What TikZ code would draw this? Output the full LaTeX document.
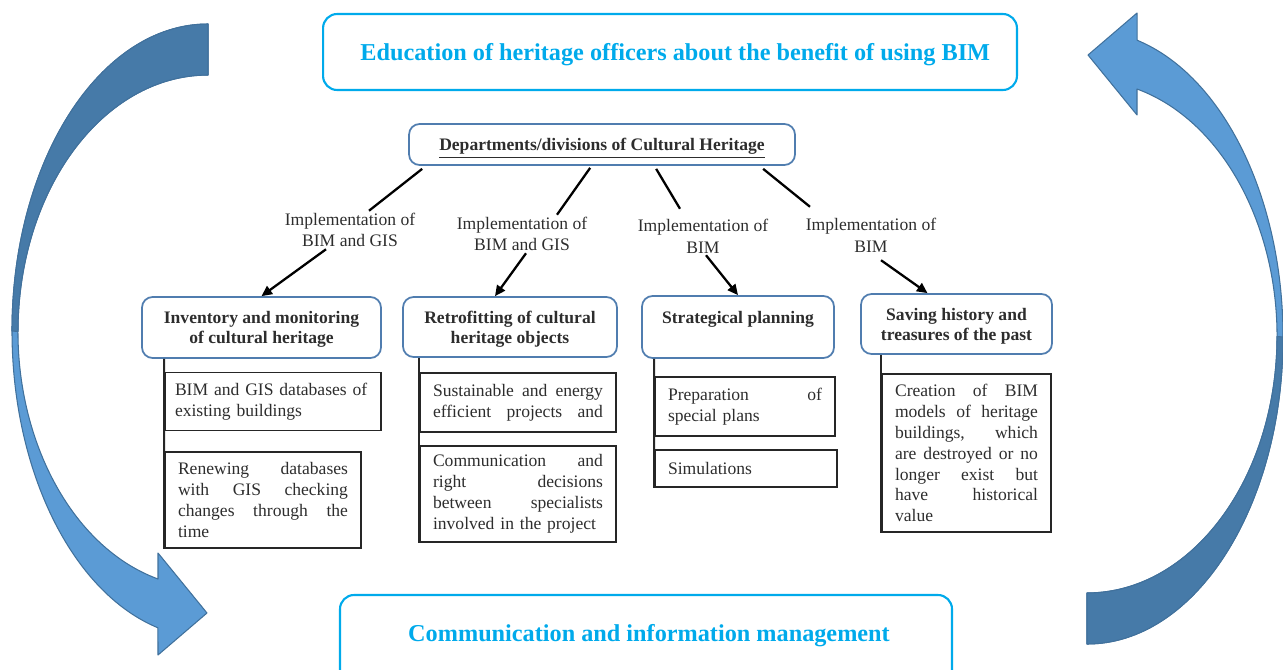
\documentclass[tikz,border=0pt]{standalone}
\usepackage{fontspec}
\setmainfont{Liberation Serif}
\usetikzlibrary{arrows.meta,calc}

\definecolor{hcyan}{RGB}{0,170,235}
\definecolor{steel}{RGB}{80,125,175}
\definecolor{arrlight}{RGB}{91,155,213}
\definecolor{arrdark}{RGB}{70,122,168}
\definecolor{arredge}{RGB}{65,113,156}
\definecolor{txtgray}{RGB}{45,45,45}

% stretch one line of a box to the given width
\newcommand{\jline}[2][3.4cm]{\leavevmode\hbox to #1{\spaceskip=.25em plus 1fil\relax #2}}

\tikzset{
  cyantext/.style={text=hcyan, text depth=0pt, font=\fontsize{13.8}{16}\selectfont\bfseries},
  cyanbox/.style={cyantext, draw=hcyan, line width=1.2pt, rounded corners=8pt},
  deptbox/.style={draw=steel, line width=1pt, rounded corners=6pt, text=txtgray, text depth=0pt,
    font=\fontsize{10}{12}\selectfont\bfseries},
  catbox/.style={draw=steel, line width=1pt, rounded corners=6pt, align=center, text depth=0pt,
    text=txtgray, font=\fontsize{10}{11.4}\selectfont\bfseries},
  subbox/.style={draw=black!85, line width=1.1pt, inner xsep=0.26cm, inner ysep=1pt,
    align=left, text=txtgray, font=\fontsize{10}{11.9}\selectfont},
  impl/.style={inner sep=1pt, align=center, text=txtgray, font=\fontsize{10}{12.4}\selectfont},
  link/.style={line width=1.3pt},
  tip/.style={link, -{Triangle[length=6pt,width=5.5pt]}},
  subline/.style={draw=black!85, line width=1.1pt},
  bigarrow/.style={draw=arredge, line width=0.6pt, line join=round}
}

\begin{document}
\begin{tikzpicture}[x=0.02cm, y=-0.02cm]
\useasboundingbox (0,0) rectangle (1283,669);

% ---- the two curved arrows, the right one is the left one turned round
\foreach \turn in {0,180}{
\begin{scope}[rotate around={\turn:(647.5,334)}]
\path[bigarrow, fill=arrlight] (208,24)
  arc[start angle=-90, end angle=-255.2, x radius=196, y radius=307]
  -- (158,655) -- (207,613) -- (158,553) -- (158,579)
  arc[start angle=-254.74, end angle=-90, x radius=190, y radius=256.5] -- cycle;
% ---- darker back half
\path[bigarrow, fill=arrdark] (208,24)
  arc[start angle=-90, end angle=-180, x radius=196, y radius=307]
  -- (18,331.5)
  arc[start angle=-180, end angle=-90, x radius=190, y radius=256.5] -- cycle;
\end{scope}
}

% ---- top and bottom frames
\node[cyanbox, minimum width=13.88cm, minimum height=1.52cm] (edu) at (670,52)
  {\hspace{6pt}Education of heritage officers about the benefit of using BIM};
\draw[cyanbox] (340,595) rectangle (952,700);
\node[cyantext] (comm) at (649,633) {Communication and information management};

% ---- root
\node[deptbox, minimum width=7.72cm, minimum height=0.82cm] (dept) at (602,144.5)
  {\underline{Departments/divisions of Cultural Heritage}};

% ---- edge labels
\node[impl] (lab1) at (350,230) {Implementation of\\BIM and GIS};
\node[impl] (lab2) at (522,234) {Implementation of\\BIM and GIS};
\node[impl] (lab3) at (703,236) {Implementation of\\BIM};
\node[impl] (lab4) at (871,235) {Implementation of\\BIM};

% ---- the four fields
\node[catbox, minimum width=4.78cm, minimum height=1.22cm] (cat1) at (261.5,327.5)
  {Inventory and monitoring\\of cultural heritage};
\node[catbox, minimum width=4.28cm, minimum height=1.2cm] (cat2) at (510,327)
  {Retrofitting of cultural\\heritage objects};
\node[catbox, minimum width=3.84cm, minimum height=1.24cm] (cat3) at (738,327)
  {Strategical planning\\\mbox{}};
\node[catbox, minimum width=3.82cm, minimum height=1.2cm] (cat4) at (956.5,324)
  {Saving history and\\treasures of the past};

% ---- what each field does
\node[subbox, inner xsep=0.2cm, text width=3.92cm, minimum width=4.32cm, minimum height=1.16cm] (s1a) at (273,401.5)
  {BIM and GIS databases of\\existing buildings};
\node[subbox, text width=3.4cm, minimum width=3.92cm, minimum height=1.92cm] (s1b) at (263,500)
  {\jline{Renewing databases}\\\jline{with GIS checking}\\\jline{changes through the}\\time};
\node[subbox, text width=3.4cm, minimum width=3.92cm, minimum height=1.18cm] (s2a) at (518,402.5)
  {\jline{Sustainable and energy}\\\jline{efficient projects and}};
\node[subbox, text width=3.4cm, minimum width=3.92cm, minimum height=1.92cm] (s2b) at (518,494)
  {\jline{Communication and}\\\jline{right decisions}\\\jline{between specialists}\\involved in the project};
\node[subbox, text width=3.08cm, minimum width=3.6cm, minimum height=1.18cm] (s3a) at (745,406.5)
  {\jline[3.08cm]{Preparation of}\\special plans};
\node[subbox, text width=3.12cm, minimum width=3.64cm, minimum height=0.74cm] (s3b) at (746,468.5)
  {Simulations};
\node[subbox, text width=2.86cm, minimum width=3.38cm, minimum height=3.16cm] (s4) at (966.5,453)
  {\jline[2.86cm]{Creation of BIM}\\\jline[2.86cm]{models of heritage}\\\jline[2.86cm]{buildings, which}\\
   \jline[2.86cm]{are destroyed or no}\\\jline[2.86cm]{longer exist but}\\\jline[2.86cm]{have historical}\\value};

% ---- lines from the root to the labels
\draw[link] ($(dept.south west)+(14,3)$) -- ($(lab1.north)+(19,0)$);
\draw[link] ($(dept.south west)+(182,2)$) -- ($(lab2.north)+(35,0)$);
\draw[link] ($(dept.south west)+(248,3)$) -- ($(lab3.north)+(-23,-8)$);
\draw[link] ($(dept.south west)+(355,3)$) -- ($(lab4.north)+(-61,-9)$);

% ---- arrows from the labels to the fields
\draw[tip] ($(lab1.south)+(-24,0)$) -- (cat1.north);
\draw[tip] ($(lab2.south)+(4,0)$) -- ($(cat2.north)+(-15,0)$);
\draw[tip] ($(lab3.south)+(3,0)$) -- (cat3.north);
\draw[tip] ($(lab4.south)+(10,6)$) -- ($(cat4.north)+(-29,0)$);

% ---- side bars under the fields
\draw[subline] (cat1.south -| s1a.west) -- (s1b.south west);
\draw[subline] (cat2.south -| s2a.west) -- (s2b.south west);
\draw[subline] (cat3.south -| s3a.west) -- (s3b.south west);
\draw[subline] (cat4.south -| s4.west) -- (s4.south west);
\end{tikzpicture}
\end{document}
